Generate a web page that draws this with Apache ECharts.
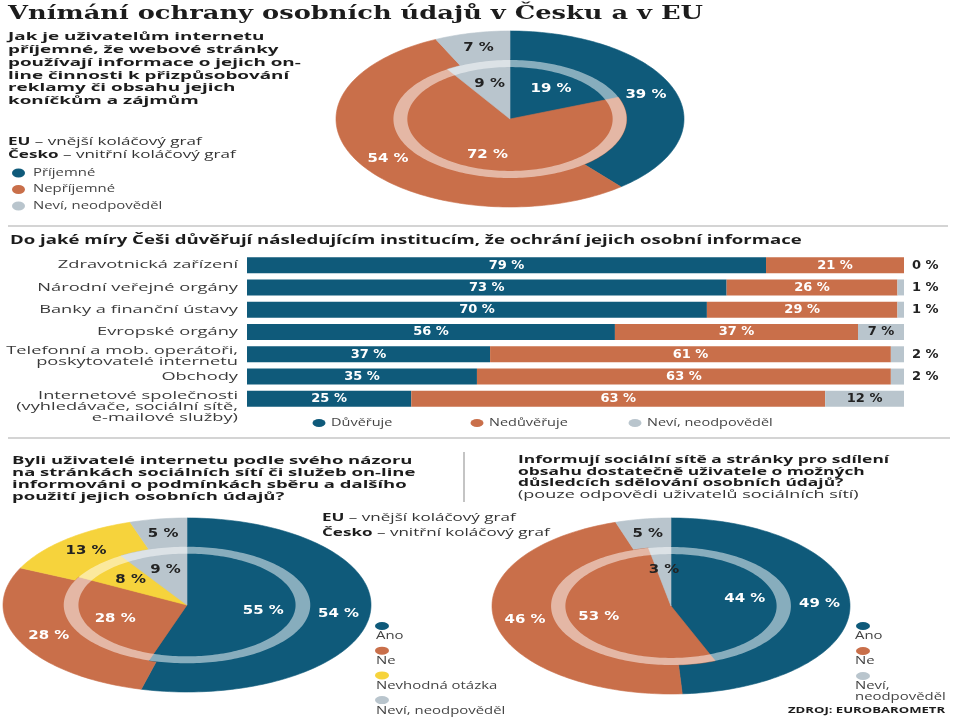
<!DOCTYPE html>
<html><head><meta charset="utf-8">
<script src="https://cdn.jsdelivr.net/npm/echarts@6/dist/echarts.min.js"></script>
<style>html,body{margin:0;padding:0;background:#fff}#c{width:960px;height:720px}</style>
</head><body><div id="c"></div><script>
// ---------- DATA ----------
const topCats = ['Příjemné', 'Nepříjemné', 'Neví, neodpověděl'];
const topEU = [39, 54, 7];
const topCZ = [19, 72, 9];

const barCats = ['Zdravotnická zařízení', 'Národní veřejné orgány', 'Banky a finanční ústavy', 'Evropské orgány',
  'Telefonní a mob. operátoři,\nposkytovatelé internetu', 'Obchody',
  'Internetové společnosti\n(vyhledávače, sociální sítě,\ne-mailové služby)'];
const barSeriesNames = ['Důvěřuje', 'Nedůvěřuje', 'Neví, neodpověděl'];
const trust = [79, 73, 70, 56, 37, 35, 25];
const distrust = [21, 26, 29, 37, 61, 63, 63];
const dontKnow = [0, 1, 1, 7, 2, 2, 12];

const blCats = ['Ano', 'Ne', 'Nevhodná otázka', 'Neví, neodpověděl'];
const blEU = [54, 28, 13, 5];
const blCZ = [55, 28, 8, 9];

const brCats = ['Ano', 'Ne', 'Neví, neodpověděl'];
const brEU = [49, 46, 5];
const brCZ = [44, 53, 3];

// ---------- STYLE / LAYOUT ----------
const BLUE = '#0f5a7a', ORANGE = '#c96f4a', GREY = '#b9c5cd', YELLOW = '#f6d33c';
const SANS = '"Open Sans", sans-serif';
const NUMF = '"DejaVu Sans", sans-serif';
const SX = 1.42;
const pieLayouts = [
  { cx: 510, cy: 119, rx: 174, ry: 88 },
  { cx: 187, cy: 605, rx: 184, ry: 87 },
  { cx: 671, cy: 606, rx: 179, ry: 88 }
];
const INNER_R = 0.67, RING_R0 = 0.59, OUT_LABEL_R = 0.83, IN_LABEL_R = 0.42;

const grids = pieLayouts.map(p => ({ left: p.cx - p.rx, top: p.cy - p.ry, width: 2 * p.rx, height: 2 * p.ry }));
grids.push({ left: 247, top: 254, width: 657, height: 156 });

const xAxes = pieLayouts.map((p, i) => ({ type: 'value', gridIndex: i, min: -1, max: 1, show: false }));
const yAxes = pieLayouts.map((p, i) => ({ type: 'value', gridIndex: i, min: -1, max: 1, show: false }));
xAxes.push({ type: 'value', gridIndex: 3, min: 0, max: 100, show: false });
yAxes.push({
  type: 'category', gridIndex: 3, inverse: true, data: barCats,
  axisLine: { show: false }, axisTick: { show: false }, axisLabel: { show: false }
});

function labelColor(c) { return (c === GREY || c === YELLOW) ? '#222' : '#fff'; }

function pieSeries(gi, values, colors, r0, r1, labelR) {
  const total = values.reduce((a, b) => a + b, 0);
  let cum = 0;
  const data = values.map((v, i) => { const s = cum; cum += v; return [s / total, cum / total, v, i]; });
  return {
    type: 'custom', coordinateSystem: 'cartesian2d', xAxisIndex: gi, yAxisIndex: gi,
    silent: true, clip: false, data,
    renderItem(params, api) {
      const a0 = api.value(0) * 2 * Math.PI, a1 = api.value(1) * 2 * Math.PI;
      const v = api.value(2), idx = api.value(3), col = colors[idx];
      const n = Math.max(2, Math.ceil((a1 - a0) / (Math.PI / 120)));
      const pts = [];
      if (r0 === 0) pts.push(api.coord([0, 0]));
      for (let k = 0; k <= n; k++) { const a = a0 + (a1 - a0) * k / n; pts.push(api.coord([r1 * Math.sin(a), r1 * Math.cos(a)])); }
      if (r0 > 0) for (let k = n; k >= 0; k--) { const a = a0 + (a1 - a0) * k / n; pts.push(api.coord([r0 * Math.sin(a), r0 * Math.cos(a)])); }
      const am = (a0 + a1) / 2;
      const lp = api.coord([labelR * Math.sin(am), labelR * Math.cos(am)]);
      return {
        type: 'group', children: [
          { type: 'polygon', shape: { points: pts }, style: { fill: col, stroke: col, lineWidth: 0.6 } },
          { type: 'text', x: lp[0], y: lp[1], scaleX: 1.15, z2: 10,
            style: { text: v + ' %', fill: labelColor(col), fontFamily: NUMF, fontWeight: 'bold', fontSize: 13, align: 'center', verticalAlign: 'middle' } }
        ]
      };
    }
  };
}

function ringSeries(gi) {
  return {
    type: 'custom', coordinateSystem: 'cartesian2d', xAxisIndex: gi, yAxisIndex: gi,
    silent: true, clip: false, data: [[0, 0]],
    renderItem(params, api) {
      const pts = [], n = 240;
      for (let k = 0; k <= n; k++) { const a = 2 * Math.PI * k / n; pts.push(api.coord([INNER_R * Math.sin(a), INNER_R * Math.cos(a)])); }
      for (let k = n; k >= 0; k--) { const a = 2 * Math.PI * k / n; pts.push(api.coord([RING_R0 * Math.sin(a), RING_R0 * Math.cos(a)])); }
      return { type: 'polygon', shape: { points: pts }, style: { fill: 'rgba(255,255,255,0.5)' } };
    }
  };
}

const topColors = [BLUE, ORANGE, GREY];
const blColors = [BLUE, ORANGE, YELLOW, GREY];
const brColors = [BLUE, ORANGE, GREY];

const series = [
  pieSeries(0, topEU, topColors, 0, 1, OUT_LABEL_R),
  pieSeries(0, topCZ, topColors, 0, INNER_R, IN_LABEL_R),
  ringSeries(0),
  pieSeries(1, blEU, blColors, 0, 1, OUT_LABEL_R),
  pieSeries(1, blCZ, blColors, 0, INNER_R, IN_LABEL_R),
  ringSeries(1),
  pieSeries(2, brEU, brColors, 0, 1, OUT_LABEL_R),
  pieSeries(2, brCZ, brColors, 0, INNER_R, IN_LABEL_R),
  ringSeries(2)
];

const barLabel = { show: true, position: 'inside', formatter: '{c} %', fontFamily: NUMF, fontWeight: 'bold', fontSize: 13, color: '#fff' };
[trust, distrust].forEach((arr, i) => series.push({
  type: 'bar', name: barSeriesNames[i], stack: 'trust', xAxisIndex: 3, yAxisIndex: 3, barWidth: 16,
  itemStyle: { color: [BLUE, ORANGE][i] }, label: barLabel, silent: true, data: arr
}));
series.push({
  type: 'bar', name: barSeriesNames[2], stack: 'trust', xAxisIndex: 3, yAxisIndex: 3, barWidth: 16,
  itemStyle: { color: GREY }, silent: true,
  label: Object.assign({}, barLabel, { color: '#222' }),
  data: dontKnow.map(v => v >= 5 ? v : { value: v, label: { position: 'right', distance: 8 } })
});

// ---------- GRAPHIC TEXT ----------
const G = [];
function txt(x, y, text, opt = {}) {
  G.push({ type: 'text', x, y, scaleX: opt.sx || SX, scaleY: opt.sy || 1, z: 5, silent: true,
    style: { text, fill: opt.fill || '#1c1c1c', fontFamily: opt.ff || SANS, fontWeight: opt.fw || 'normal', fontSize: opt.fs || 12,
      verticalAlign: opt.va || 'middle', align: opt.align || 'left', lineHeight: opt.lh, rich: opt.rich } });
}
function dot(x, y, c, rx, ry) { G.push({ type: 'circle', x, y, scaleX: rx / ry, silent: true, shape: { cx: 0, cy: 0, r: ry }, style: { fill: c } }); }
function hline(x1, x2, y, c, w) { G.push({ type: 'line', silent: true, shape: { x1, y1: y, x2, y2: y }, style: { stroke: c, lineWidth: w } }); }

txt(8, 14, 'Vnímání ochrany osobních údajů v Česku a v EU', { ff: '"DejaVu Serif", serif', fw: 'bold', fs: 18.5, sx: 1.39 });
['Jak je uživatelům internetu', 'příjemné, že webové stránky', 'používají informace o jejich on-',
 'line činnosti k přizpůsobování', 'reklamy či obsahu jejich', 'koníčkům a zájmům']
  .forEach((l, i) => txt(8, 37 + i * 12.8, l, { fw: 'bold', fs: 13, sx: 1.45, sy: 0.88 }));
const rich = { b: { fontWeight: 'bold', fontFamily: SANS, fontSize: 12, fill: '#1c1c1c' }, n: { fontFamily: SANS, fontSize: 12, fill: '#333' } };
txt(8, 142, '{b|EU} {n|– vnější koláčový graf}', { rich, sy: 0.92 });
txt(8, 155, '{b|Česko} {n|– vnitřní koláčový graf}', { rich, sy: 0.92 });
topCats.forEach((c, i) => { dot(18.5, 173 + i * 16.5, topColors[i], 6.5, 4.5); txt(33, 173 + i * 16.5, c, { fs: 10.5, fill: '#444' }); });

hline(8, 948, 226, '#d4d4d4', 2);
txt(10, 241, 'Do jaké míry Češi důvěřují následujícím institucím, že ochrání jejich osobní informace', { fw: 'bold', fs: 13, sx: 1.43, sy: 0.92 });
const barLegX = [319, 477, 635];
barSeriesNames.forEach((c, i) => { dot(barLegX[i], 423, [BLUE, ORANGE, GREY][i], 6.5, 4); txt(barLegX[i] + 12, 423, c, { fs: 10.5, fill: '#444', sx: 1.38 }); });
hline(8, 950, 438, '#d4d4d4', 2);

['Byli uživatelé internetu podle svého názoru', 'na stránkách sociálních sítí či služeb on-line',
 'informováni o podmínkách sběru a dalšího', 'použití jejich osobních údajů?']
  .forEach((l, i) => txt(12, 461 + i * 12, l, { fw: 'bold', fs: 12, sx: 1.54, sy: 0.88 }));
['Informují sociální sítě a stránky pro sdílení', 'obsahu dostatečně uživatele o možných', 'důsledcích sdělování osobních údajů?']
  .forEach((l, i) => txt(518, 460 + i * 11.7, l, { fw: 'bold', fs: 12, sx: 1.45, sy: 0.88 }));
txt(518, 495, '(pouze odpovědi uživatelů sociálních sítí)', { fs: 12, fill: '#333', sx: 1.5, sy: 0.9 });
G.push({ type: 'line', silent: true, shape: { x1: 464, y1: 452, x2: 464, y2: 502 }, style: { stroke: '#c4c4c4', lineWidth: 2 } });
txt(322, 518, '{b|EU} {n|– vnější koláčový graf}', { rich, sy: 0.92 });
txt(322, 533, '{b|Česko} {n|– vnitřní koláčový graf}', { rich, sy: 0.92 });

blCats.forEach((c, i) => { const y = 626 + i * 24.7; dot(382, y, blColors[i], 7, 4); txt(376, y + 10.5, c, { fs: 10.5, fill: '#444' }); });
brCats.forEach((c, i) => { const y = 626 + i * 25; dot(863, y, brColors[i], 7, 4); txt(855, y + (c.includes(',') ? 16 : 10.5), c.replace(', ', ',\n'), { fs: 10.5, fill: '#444', lh: 11 }); });
txt(788, 710, 'ZDROJ: EUROBAROMETR', { fw: 'bold', fs: 9.5, sx: 1.38 });

const chart = echarts.init(document.getElementById('c'), null, { renderer: 'canvas' });
const option = {
  backgroundColor: '#fff', animation: false,
  grid: grids, xAxis: xAxes, yAxis: yAxes, series, graphic: { elements: G }
};
chart.setOption(option);

// category labels placed through the bar chart's own category axis
barCats.forEach((c, i) => {
  const p = chart.convertToPixel({ gridIndex: 3 }, [0, i]);
  const lines = c.split('\n').length;
  txt(238, lines > 1 ? p[1] - 8.5 : p[1], c, { fs: 12.5, fill: '#3a3a3a', align: 'right', va: lines > 1 ? 'top' : 'middle', lh: 12, sx: 1.46, sy: 0.9 });
});
chart.setOption({ graphic: { elements: G } });
</script></body></html>
